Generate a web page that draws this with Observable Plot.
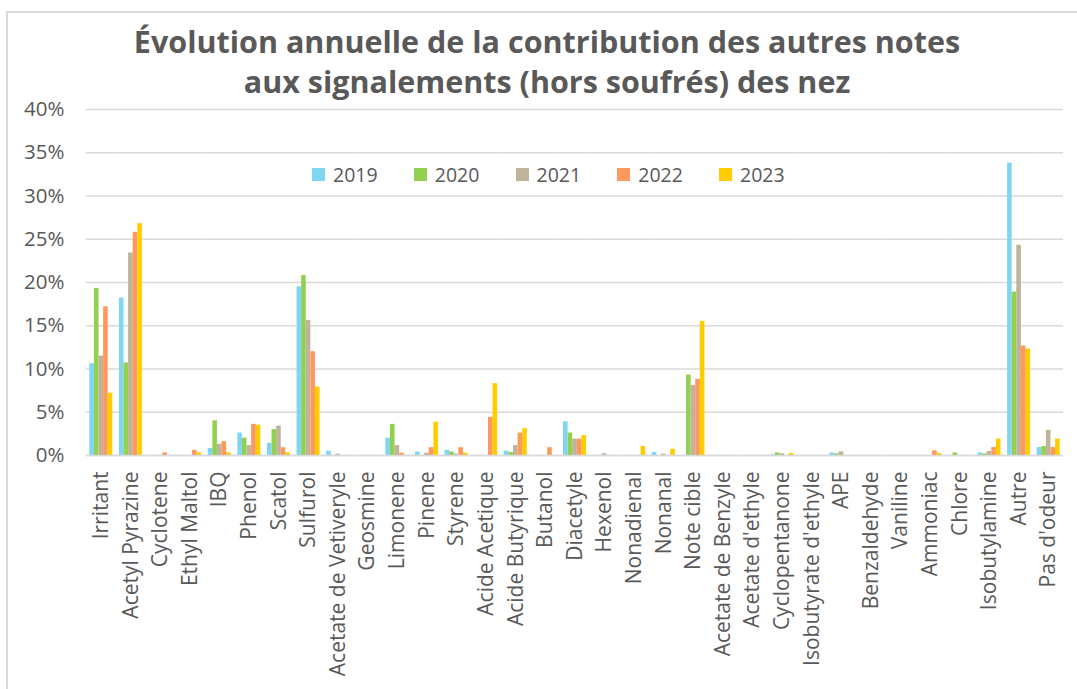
<!DOCTYPE html>
<html>
<head>
<meta charset="utf-8">
<script src="https://cdn.jsdelivr.net/npm/d3@7"></script>
<script src="https://cdn.jsdelivr.net/npm/@observablehq/plot@0.6"></script>
<style>
  html, body { margin: 0; padding: 0; background: #fff; }
  body { width: 1077px; height: 689px; position: relative; overflow: hidden; font-family: "Open Sans", sans-serif; }
  #frame { position: absolute; left: 6px; top: 11px; right: -4px; bottom: -4px; border-left: 2px solid #d9d9d9; border-top: 2px solid #d9d9d9; pointer-events: none; }
  #title { position: absolute; left: 0; top: 21px; width: 1094px; text-align: center; font-weight: 700; font-size: 30.5px; line-height: 40px; color: #595959; white-space: nowrap; }
  #legend { position: absolute; left: 0; top: 0; width: 1077px; height: 0; }
  .item { position: absolute; top: 161px; display: flex; align-items: center; font-size: 19.5px; color: #595959; }
  .sw { width: 13px; height: 13px; margin-right: 8px; }
  #chart { position: absolute; left: 0; top: 0; }
</style>
</head>
<body>
<div id="chart"></div>
<div id="frame"></div>
<div id="title">Évolution annuelle de la contribution des autres notes<br>aux signalements (hors soufrés) des nez</div>
<div id="legend"></div>
<script>
const categories = ["Irritant", "Acetyl Pyrazine", "Cyclotene", "Ethyl Maltol", "IBQ", "Phenol", "Scatol", "Sulfurol",
  "Acetate de Vetiveryle", "Geosmine", "Limonene", "Pinene", "Styrene", "Acide Acetique", "Acide Butyrique", "Butanol",
  "Diacetyle", "Hexenol", "Nonadienal", "Nonanal", "Note cible", "Acetate de Benzyle", "Acetate d'ethyle",
  "Cyclopentanone", "Isobutyrate d'ethyle", "APE", "Benzaldehyde", "Vaniline", "Ammoniac", "Chlore",
  "Isobutylamine", "Autre", "Pas d'odeur"];

const years = ["2019", "2020", "2021", "2022", "2023"];
const colors = ["#7fd6f2", "#92d050", "#bfb399", "#ff985c", "#ffcc00"];

// values in percent, one per category
const v2019 = [10.6, 18.2, 0, 0, 0.8, 2.6, 1.4, 19.5, 0.5, 0, 2.0, 0.4, 0.6, 0, 0.5, 0, 3.9, 0, 0, 0.35, 0, 0, 0, 0.08, 0, 0.3, 0, 0, 0, 0, 0.3, 33.8, 0.92];
const v2020 = [19.3, 10.7, 0, 0, 4.0, 2.0, 3.0, 20.8, 0, 0, 3.6, 0, 0.4, 0, 0.35, 0, 2.6, 0, 0, 0, 9.3, 0, 0, 0.3, 0, 0.2, 0, 0, 0, 0.3, 0.2, 18.9, 1.04];
const v2021 = [11.5, 23.4, 0, 0, 1.3, 1.15, 3.4, 15.6, 0.15, 0, 1.15, 0.27, 0.15, 0, 1.15, 0, 1.9, 0.2, 0, 0.15, 8.1, 0, 0, 0.2, 0, 0.42, 0, 0, 0, 0, 0.46, 24.3, 2.9];
const v2022 = [17.2, 25.8, 0.3, 0.6, 1.6, 3.6, 0.9, 12.0, 0, 0, 0.27, 0.9, 0.9, 4.4, 2.6, 0.9, 1.9, 0, 0, 0, 8.8, 0, 0, 0, 0, 0, 0, 0, 0.54, 0, 0.92, 12.65, 0.92];
const v2023 = [7.2, 26.8, 0, 0.3, 0.3, 3.5, 0.3, 7.9, 0, 0, 0, 3.85, 0.27, 8.3, 3.1, 0, 2.3, 0, 1.04, 0.73, 15.5, 0, 0, 0.23, 0, 0, 0, 0, 0.23, 0, 1.9, 12.3, 1.9];

const yTicks = [0, 0.05, 0.10, 0.15, 0.20, 0.25, 0.30, 0.35, 0.40];

const series = [v2019, v2020, v2021, v2022, v2023];
const data = categories.flatMap((c, i) => years.map((y, j) => ({category: c, year: y, value: series[j][i] / 100})));

const chart = Plot.plot({
  width: 1077,
  height: 689,
  marginLeft: 86,
  marginRight: 14,
  marginTop: 109,
  marginBottom: 234,
  style: {fontFamily: "Open Sans", fontSize: "20px", color: "#595959", background: "transparent"},
  fx: {domain: categories, padding: 0, round: false, label: null},
  x: {domain: years, paddingInner: 0, paddingOuter: 0.72, round: false, axis: null},
  y: {domain: [0, 0.4], label: null},
  color: {domain: years, range: colors},
  marks: [
    Plot.gridY(yTicks, {stroke: "#d9d9d9", strokeOpacity: 1, strokeWidth: 1.5}),
    Plot.axisY(yTicks, {tickFormat: d3.format(".0%"), tickSize: 0, tickPadding: 22, fontSize: 20.5, fill: "#595959", label: null}),
    Plot.axisFx({anchor: "bottom", tickRotate: -90, tickSize: 0, tickPadding: 16, fontSize: 21, fill: "#595959", label: null}),
    Plot.barY(data, {fx: "category", x: "year", y: "value", fill: "year"}),
    Plot.ruleY([0], {stroke: "#d9d9d9", strokeWidth: 1.5})
  ]
});
document.getElementById("chart").appendChild(chart);

const legend = document.getElementById("legend");
years.forEach((y, i) => {
  const item = document.createElement("div");
  item.className = "item";
  item.style.left = (312 + i * 101.75) + "px";
  item.innerHTML = `<span class="sw" style="background:${colors[i]}"></span><span>${y}</span>`;
  legend.appendChild(item);
});
</script>
</body>
</html>
